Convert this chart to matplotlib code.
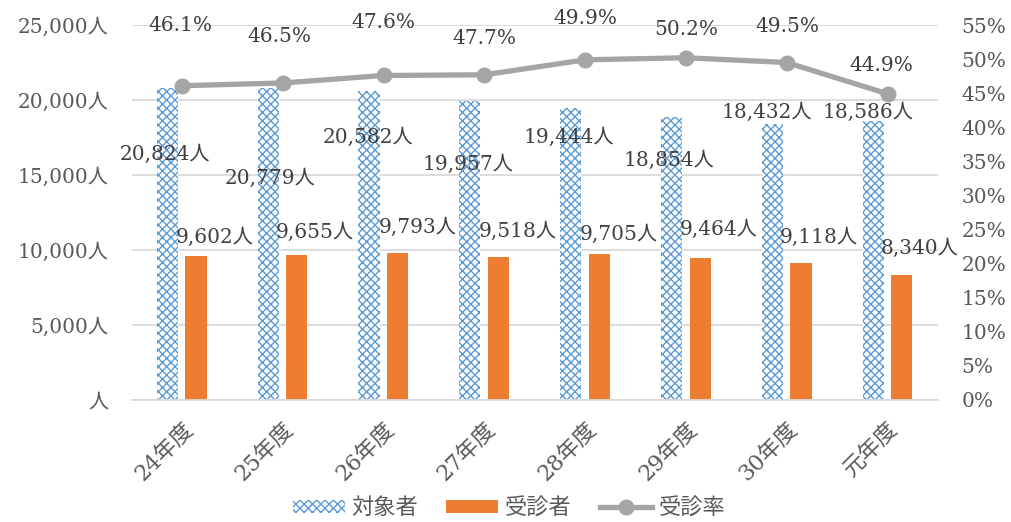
import matplotlib

matplotlib.use("Agg")
import matplotlib.pyplot as plt
from matplotlib.lines import Line2D
from matplotlib.patches import Patch
from matplotlib.ticker import FuncFormatter, MultipleLocator

# --- data ---
years = ["24年度", "25年度", "26年度", "27年度", "28年度", "29年度", "30年度", "元年度"]
taishosha = [20824, 20779, 20582, 19957, 19444, 18854, 18432, 18586]
jushinsha = [9602, 9655, 9793, 9518, 9705, 9464, 9118, 8340]
jushinritsu = [46.1, 46.5, 47.6, 47.7, 49.9, 50.2, 49.5, 44.9]

# label offsets (pixels) copied from the Excel layout
off_tai = [(-2, -67), (2, -90), (-1, -46), (-2, -64), (-2, -29), (-3, -43), (-6, 11), (-5, 9)]
off_jus = [(19, 19), (18, 23), (20, 26), (19, 26), (19, 20), (18, 29), (18, 26), (18, 27)]
off_rit = [(-2, 60), (-3, 46), (0, 53), (0, 36), (0, 41), (0, 28), (0, 36), (-6, 28)]

BLUE = "#5B9BD5"
ORANGE = "#ED7D31"
GRAY = "#A5A5A5"
GRID = "#D9D9D9"
TXT = "#595959"
LBL = "#404040"
SERIF = ["DejaVu Serif", "Noto Sans CJK JP"]
SANS = ["Noto Sans CJK JP", "DejaVu Sans"]
FS = 14.5

plt.rcParams["hatch.linewidth"] = 1.0
plt.rcParams["font.family"] = SERIF

fig = plt.figure(figsize=(10.12, 5.22), dpi=100)
ax = fig.add_axes([0.130, 0.234, 0.797, 0.718])
ax2 = ax.twinx()

x = list(range(len(years)))
w = 0.21
xb = [i - 0.145 for i in x]
xo = [i + 0.14 for i in x]

ax.bar(xb, taishosha, width=w, color="white", edgecolor=BLUE, hatch="xxxx", linewidth=0)
ax.bar(xo, jushinsha, width=w, color=ORANGE, linewidth=0)
ax2.plot(x, jushinritsu, color=GRAY, lw=3.8, marker="o", ms=10.5, zorder=5)

ax.set_xlim(-0.5, len(years) - 0.5)
ax.set_ylim(0, 25000)
ax2.set_ylim(0, 55)
ax.yaxis.set_major_locator(MultipleLocator(5000))
ax2.yaxis.set_major_locator(MultipleLocator(5))
ax.yaxis.set_major_formatter(FuncFormatter(lambda v, p: "人" if v == 0 else f"{int(v):,}人"))
ax2.yaxis.set_major_formatter(FuncFormatter(lambda v, p: f"{int(round(v))}%"))

ax.grid(axis="y", color=GRID, lw=1.3)
ax.set_axisbelow(True)
for a in (ax, ax2):
    for s in a.spines.values():
        s.set_visible(False)
    a.tick_params(length=0, labelsize=FS, colors=TXT)
ax.spines["bottom"].set_visible(True)
ax.spines["bottom"].set_color(GRID)
ax.spines["bottom"].set_linewidth(1.3)
ax.tick_params(axis="y", pad=17)
ax2.tick_params(axis="y", pad=17)

ax.set_xticks(x)
ax.set_xticklabels(years, rotation=45, ha="right", rotation_mode="anchor")
ax.tick_params(axis="x", pad=13, labelsize=16)

for i in x:
    ax.annotate(f"{taishosha[i]:,}人", (xb[i], taishosha[i]), xytext=off_tai[i],
                textcoords="offset pixels", ha="center", va="center", fontsize=FS, color=LBL)
    ax.annotate(f"{jushinsha[i]:,}人", (xo[i], jushinsha[i]), xytext=off_jus[i],
                textcoords="offset pixels", ha="center", va="center", fontsize=FS, color=LBL)
    ax2.annotate(f"{jushinritsu[i]:.1f}%", (i, jushinritsu[i]), xytext=off_rit[i],
                 textcoords="offset pixels", ha="center", va="center", fontsize=FS, color=LBL)

handles = [
    Patch(facecolor="white", edgecolor=BLUE, hatch="xxxx", linewidth=0, label="対象者"),
    Patch(facecolor=ORANGE, linewidth=0, label="受診者"),
    Line2D([], [], color=GRAY, lw=3.8, marker="o", ms=10.5, label="受診率"),
]
leg = fig.legend(handles=handles, loc="center", bbox_to_anchor=(0.503, 0.027), ncol=3,
                 frameon=False, prop={"family": SANS, "size": 16}, handlelength=2.35,
                 handleheight=0.5, columnspacing=1.25, handletextpad=0.3)
for t in leg.get_texts():
    t.set_color(TXT)

fig.savefig("out.png", dpi=100)
